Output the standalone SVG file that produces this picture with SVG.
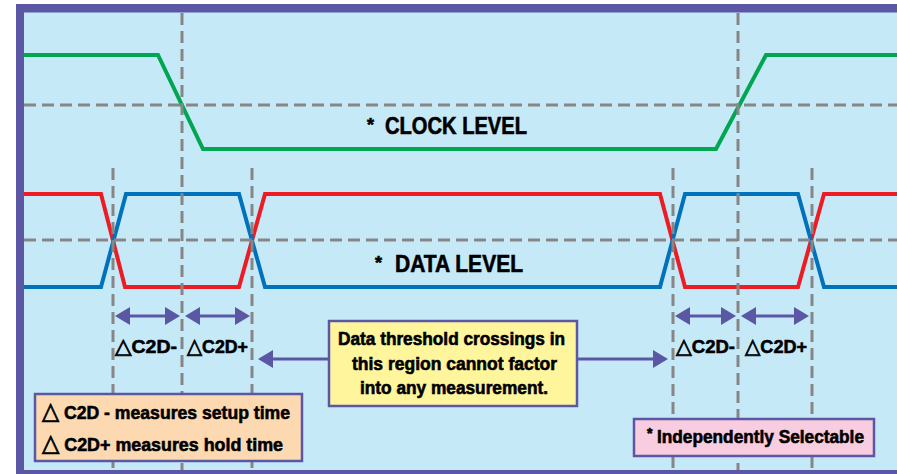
<svg xmlns="http://www.w3.org/2000/svg" width="897" height="474" viewBox="0 0 897 474">
<defs>
<style>
.grid{stroke:#868686;stroke-width:3;stroke-dasharray:12 6;fill:none}
.wave{fill:none;stroke-width:4;stroke-linejoin:miter}
.arr{stroke:#5B57A5;stroke-width:3;fill:none}
.box{stroke:#5B57A5;stroke-width:2.5}
.t{font-family:"Liberation Sans Narrow","Liberation Sans",Arial,sans-serif;font-weight:bold;fill:#000;stroke:#000;stroke-width:0.6}
.tri{font-family:"DejaVu Sans",sans-serif;font-weight:normal;stroke-width:0.8}
</style>
<marker id="ah" viewBox="0 0 15 18" refX="5" refY="9" markerWidth="15" markerHeight="18" markerUnits="userSpaceOnUse" orient="auto-start-reverse">
<path d="M0,0 L15,9 L0,18 Z" fill="#5B57A5"/>
</marker>
</defs>
<g id="frame">
<rect x="16" y="4" width="890" height="475" fill="#5B57A5"/>
<rect x="24" y="12.5" width="880" height="457.5" fill="#C6E9F8"/>
</g>
<g id="waveforms">
<polyline class="wave" stroke="#00A651" points="24,55 158,55 203,149 716,149 766,55 897,55"/>
<polyline class="wave" stroke="#ED1C24" points="24,194 101,194 125,287 239,287 265,194 660,194 685,287 798,287 824,194 897,194"/>
<polyline class="wave" stroke="#0072BC" points="24,287 101,287 126,194 239,194 265,287 660,287 685,194 798,194 824,287 897,287"/>
</g>
<g id="grid">
<line class="grid" x1="24" y1="105" x2="897" y2="105"/>
<line class="grid" x1="24" y1="240" x2="897" y2="240"/>
<line class="grid" x1="182" y1="13" x2="182" y2="470"/>
<line class="grid" x1="738" y1="13" x2="738" y2="470"/>
<line class="grid" x1="113" y1="168" x2="113" y2="470"/>
<line class="grid" x1="252" y1="168" x2="252" y2="470"/>
<line class="grid" x1="673" y1="168" x2="673" y2="470"/>
<line class="grid" x1="812" y1="168" x2="812" y2="470"/>
</g>
<g id="connectors">
<line class="arr" x1="125" y1="316" x2="170" y2="316" marker-start="url(#ah)" marker-end="url(#ah)"/>
<line class="arr" x1="195" y1="316" x2="240" y2="316" marker-start="url(#ah)" marker-end="url(#ah)"/>
<line class="arr" x1="685" y1="316" x2="726" y2="316" marker-start="url(#ah)" marker-end="url(#ah)"/>
<line class="arr" x1="751" y1="316" x2="799" y2="316" marker-start="url(#ah)" marker-end="url(#ah)"/>
<line class="arr" x1="268" y1="359" x2="330" y2="359" marker-start="url(#ah)"/>
<line class="arr" x1="576" y1="359" x2="658" y2="359" marker-end="url(#ah)"/>
</g>
<g id="clock-label">
<text class="t" x="367" y="131" font-size="18">*</text>
<text class="t" x="385" y="134" font-size="23" textLength="142" lengthAdjust="spacingAndGlyphs">CLOCK LEVEL</text>
</g>
<g id="data-label">
<text class="t" x="375" y="269" font-size="18">*</text>
<text class="t" x="395" y="272" font-size="23" textLength="128" lengthAdjust="spacingAndGlyphs">DATA LEVEL</text>
</g>
<g id="c2d-labels">
<text class="t" x="115" y="353" font-size="19" textLength="62" lengthAdjust="spacingAndGlyphs"><tspan class="tri" font-size="21">△</tspan>C2D-</text>
<text class="t" x="187" y="353" font-size="19" textLength="61" lengthAdjust="spacingAndGlyphs"><tspan class="tri" font-size="21">△</tspan>C2D+</text>
<text class="t" x="676" y="353" font-size="19" textLength="59" lengthAdjust="spacingAndGlyphs"><tspan class="tri" font-size="21">△</tspan>C2D-</text>
<text class="t" x="745" y="353" font-size="19" textLength="62" lengthAdjust="spacingAndGlyphs"><tspan class="tri" font-size="21">△</tspan>C2D+</text>
</g>
<g id="note-box">
<rect class="box" x="329" y="321" width="248" height="85" fill="#FFF59D"/>
<text class="t" x="338" y="345" font-size="18" textLength="227" lengthAdjust="spacingAndGlyphs">Data threshold crossings in</text>
<text class="t" x="352" y="370" font-size="18" textLength="205" lengthAdjust="spacingAndGlyphs">this region cannot factor</text>
<text class="t" x="360" y="394" font-size="18" textLength="188" lengthAdjust="spacingAndGlyphs">into any measurement.</text>
</g>
<g id="legend-box">
<rect class="box" x="35" y="394" width="267" height="67" fill="#FDD9B2"/>
<text class="t" x="42" y="419" font-size="19" textLength="248" lengthAdjust="spacingAndGlyphs"><tspan class="tri" font-size="24">△</tspan> C2D - measures setup time</text>
<text class="t" x="42" y="451" font-size="19" textLength="241" lengthAdjust="spacingAndGlyphs"><tspan class="tri" font-size="24">△</tspan> C2D+ measures hold time</text>
</g>
<g id="selectable-box">
<rect class="box" x="634" y="419" width="240" height="37" fill="#F9CDE0"/>
<text class="t" x="647" y="438" font-size="14">*</text>
<text class="t" x="657" y="443" font-size="18" textLength="207" lengthAdjust="spacingAndGlyphs">Independently Selectable</text>
</g>
</svg>
